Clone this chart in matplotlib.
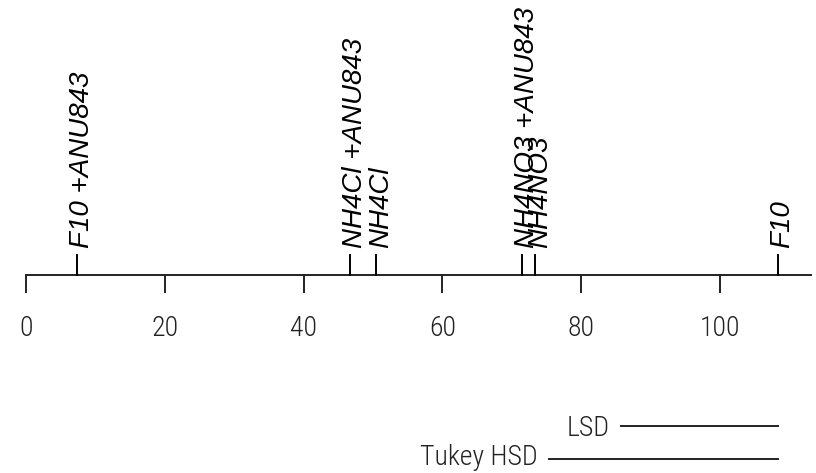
import matplotlib
matplotlib.use('Agg')
import matplotlib.pyplot as plt
import matplotlib.transforms as mtransforms

# treatment means (positions on the axis) and their labels
treatments = ['F10 +ANU843', 'NH4Cl +ANU843', 'NH4Cl', 'NH4NO3 +ANU843', 'NH4NO3', 'F10']
means = [7.4, 46.7, 50.4, 71.5, 73.3, 108.3]
tick_values = [0, 20, 40, 60, 80, 100]
tick_labels = ['0', '20', '40', '60', '80', '100']
# critical differences
lsd = 22.6
hsd = 32.9

narrow = ['Roboto Condensed', 'Liberation Sans', 'DejaVu Sans']
plain = ['Liberation Sans', 'DejaVu Sans']

fig = plt.figure(figsize=(8.16, 4.73), dpi=100)
ax = fig.add_axes([0, 0, 1, 1])
ax.set_xlim(-26 / 6.94, (816 - 26) / 6.94)
ax.set_ylim(473, 0)  # y in pixels from the top, only for layout
ax.axis('off')

col = '#222222'
axis_y = 275

# axis line and ticks
ax.plot([0, 113.3], [axis_y, axis_y], color=col, lw=1.4, solid_capstyle='butt')
for v, lab in zip(tick_values, tick_labels):
    ax.plot([v, v], [axis_y, 291.5], color=col, lw=1.4)
    ax.text(v, 328.5, lab, ha='center', va='center', fontsize=20, family=narrow,
            fontweight='light', color=col)

# treatment marks above the axis
shift = mtransforms.offset_copy(ax.transData, fig=fig, x=5, y=0, units='dots')
for v, lab in zip(means, treatments):
    ax.plot([v, v], [axis_y, 255], color='black', lw=1.4)
    ax.text(v, 248, lab, rotation=90, ha='center', va='bottom', fontsize=20,
            style='italic', family=plain, color='black', transform=shift)

# LSD and Tukey HSD bars, right end at the largest mean
right = max(means)
ax.plot([right - lsd, right], [425.7, 425.7], color=col, lw=1.4)
ax.text(right - lsd - 1.6, 428, 'LSD', ha='right', va='center', fontsize=20, family=narrow,
        fontweight='light', color=col)
ax.plot([right - hsd, right], [459.3, 459.3], color=col, lw=1.4)
ax.text(right - hsd - 1.6, 457, 'Tukey HSD', ha='right', va='center', fontsize=20, family=narrow,
        fontweight='light', color=col)

fig.savefig('out.png', dpi=100)
